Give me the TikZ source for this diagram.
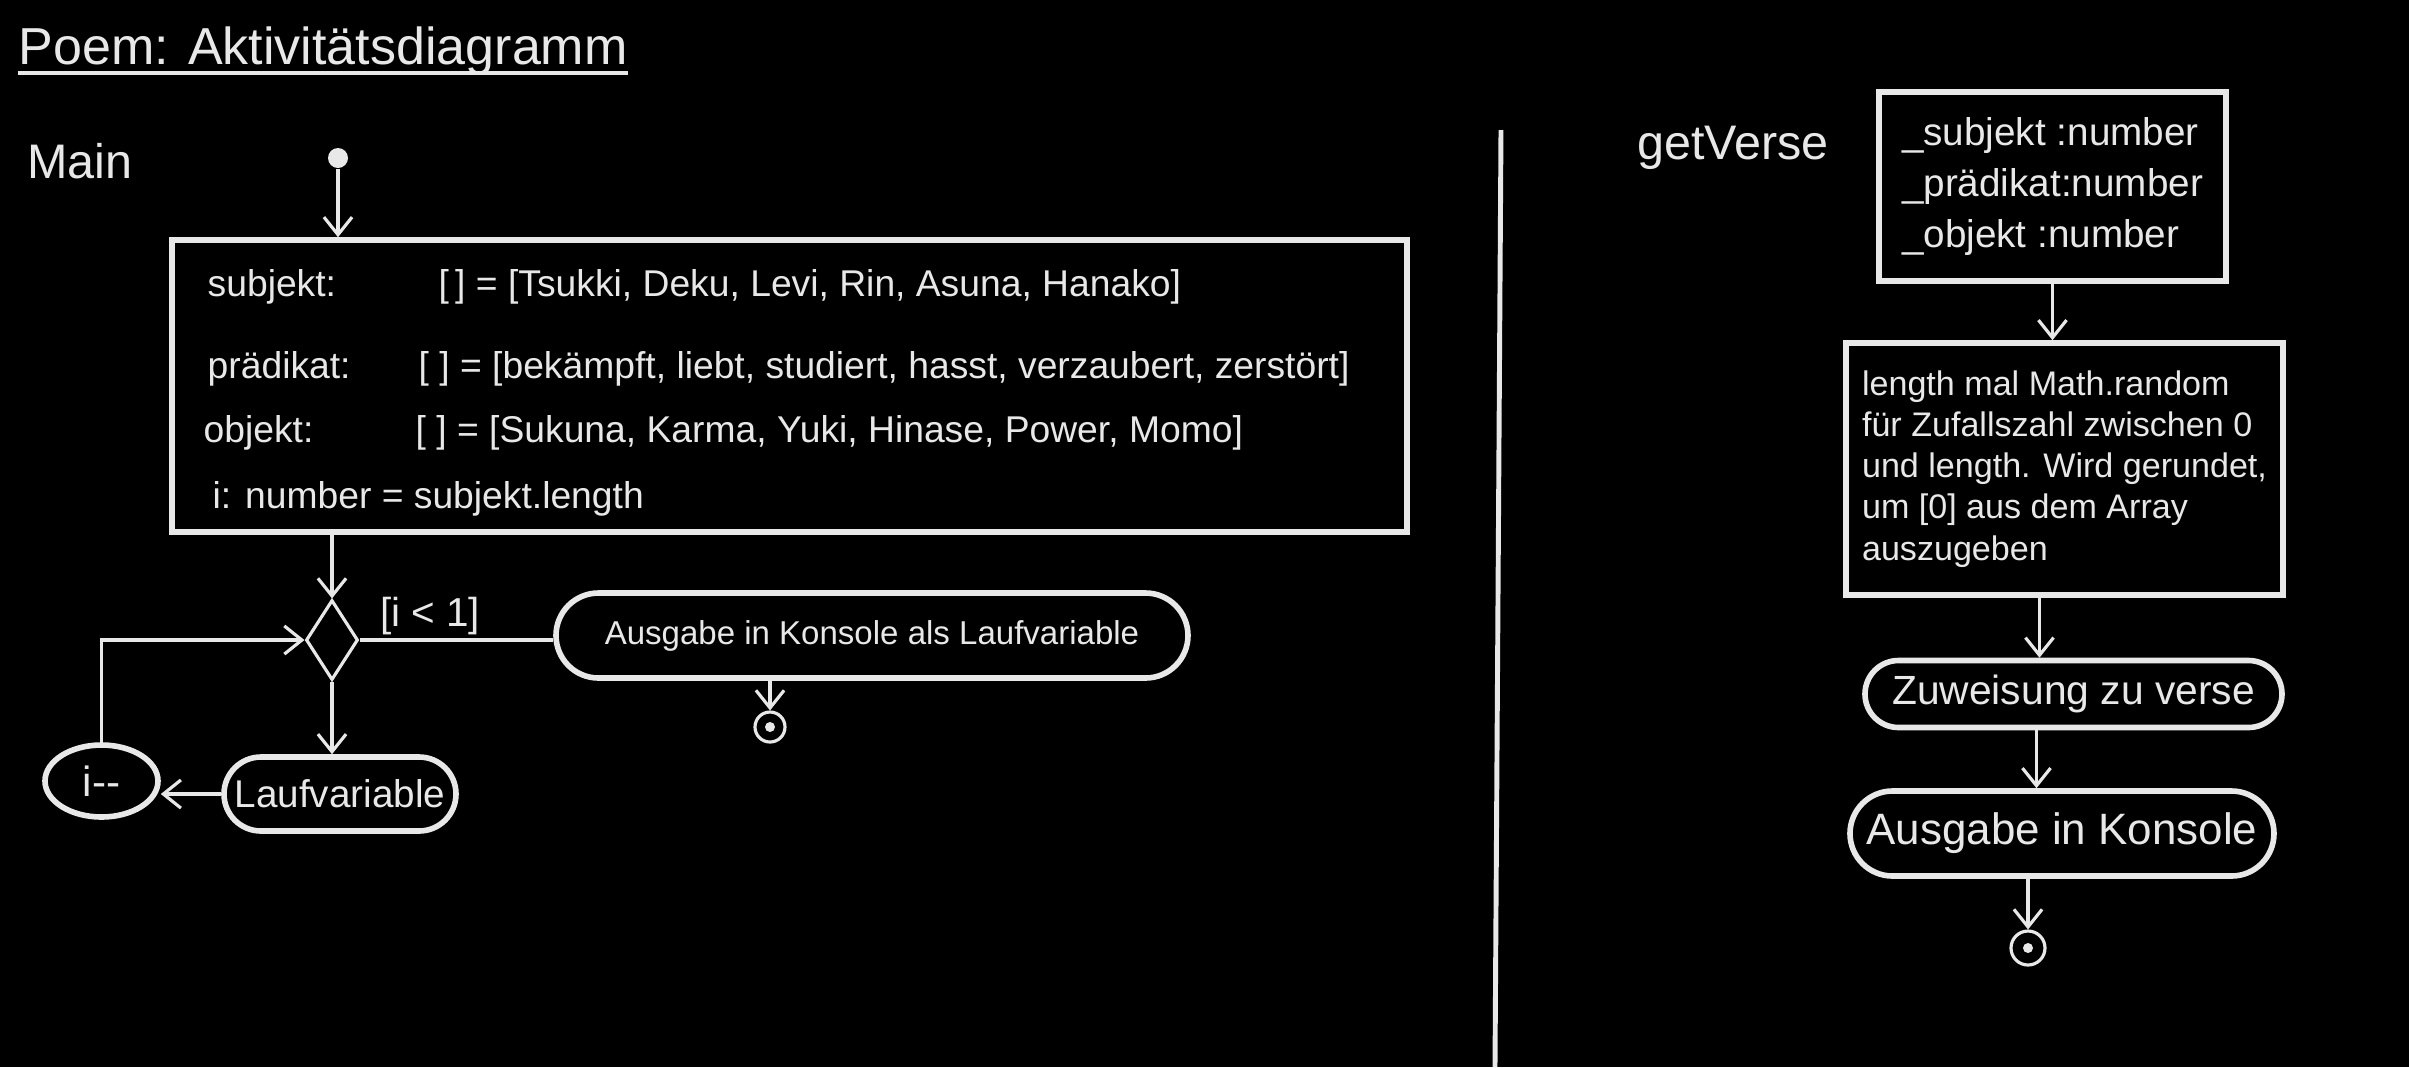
\documentclass[tikz,border=0pt]{standalone}
\usepackage{fontspec}
\setmainfont{Liberation Sans}
\usetikzlibrary{arrows.meta,shapes.geometric,shapes.misc}
\definecolor{chalk}{HTML}{E8E8E8}

\begin{document}
\begin{tikzpicture}[
    color=chalk,
    title/.style={font=\fontsize{14.8}{18}\selectfont, anchor=base west, inner sep=0pt},
    sect/.style={font=\fontsize{13.8}{16}\selectfont, inner sep=0pt},
    vartxt/.style={font=\fontsize{10.6}{13}\selectfont, anchor=west, inner sep=0pt},
    guard/.style={font=\fontsize{11.5}{13}\selectfont, inner sep=0pt},
    box/.style={draw, line width=1.6pt, inner sep=0pt},
    pill/.style={draw, rounded rectangle, line width=1.6pt, inner sep=0pt},
    decision/.style={diamond, draw, line width=0.9pt, minimum width=0.52cm, minimum height=0.8cm, inner sep=0pt},
    counter/.style={ellipse, draw, line width=1.6pt, inner sep=0pt, font=\fontsize{12}{14}\selectfont},
    startdot/.style={circle, fill, minimum size=0.2cm, inner sep=0pt},
    enddot/.style={circle, draw, line width=0.9pt, minimum size=0.3cm, inner sep=0pt,
        path picture={\fill (path picture bounding box.center) circle (0.05);}},
    arr/.style={-{Straight Barb[length=5pt,width=8pt]}, line width=0.9pt},
]
    % background and page size
    \fill[black] (0,0) rectangle (24.09,-10.67);
    \useasboundingbox (0,0) rectangle (24.09,-10.67);

    % ============= Title =============
    \node[title] (title) at (0.18,-0.64) {Poem: Aktivitätsdiagramm};
    \draw[line width=1pt] ([yshift=-0.09cm]title.base west) -- ([yshift=-0.09cm]title.base east);

    % ============= Main =============
    \node[sect] (mainlbl) at (0.80,-1.61) {Main};
    \node[startdot] (start) at (3.38,-1.58) {};
    \node[box, minimum width=12.35cm, minimum height=2.92cm] (vars) at (7.895,-3.86) {};
    \node[vartxt] (subjlbl) at (2.07,-2.87) {subjekt:};
    \node[vartxt] (subjlist) at (4.38,-2.87) {[\,] = [Tsukki, Deku, Levi, Rin, Asuna, Hanako]};
    \node[vartxt] (praedlbl) at (2.07,-3.69) {prädikat:};
    \node[vartxt] (praedlist) at (4.18,-3.69) {[ ] = [bekämpft, liebt, studiert, hasst, verzaubert, zerstört]};
    \node[vartxt] (objlbl) at (2.03,-4.33) {objekt:};
    \node[vartxt] (objlist) at (4.15,-4.33) {[ ] = [Sukuna, Karma, Yuki, Hinase, Power, Momo]};
    \node[vartxt] (ilbl) at (2.12,-4.99) {i: number = subjekt.length};

    \node[decision] (dec) at (3.32,-6.40) {};
    \node[guard] (guardlbl) at (4.30,-6.16) {[i < 1]};
    \node[pill, minimum width=6.32cm, minimum height=0.85cm, font=\fontsize{9.4}{11}\selectfont] (out) at (8.72,-6.355) {Ausgabe in Konsole als Laufvariable};
    \node[enddot] (endA) at (7.70,-7.27) {};
    \node[pill, minimum width=2.32cm, minimum height=0.74cm, font=\fontsize{11}{13}\selectfont] (lauf) at (3.40,-7.94) {Laufvariable};
    \node[counter, minimum width=1.13cm, minimum height=0.72cm] (decr) at (1.015,-7.81) {i-{}-};

    \draw[arr] (start) -- (start |- vars.north);
    \draw[arr] (dec |- vars.south) -- (dec.north);
    \draw[line width=0.9pt] (dec.east) -- (dec.east -| out.west);
    \draw[arr] (endA |- out.south) -- (endA.north);
    \draw[arr] (dec.south) -- (dec.south |- lauf.north);
    \draw[arr] (lauf.west) -- (lauf.west -| decr.east);
    \draw[arr] (decr.north) |- (dec.west);

    % divider
    \draw[line width=1.4pt] (15.01,-1.30) coordinate (divtop) -- (14.95,-10.67) coordinate (divbot);

    % ============= getVerse =============
    \node[sect] (verselbl) at (17.33,-1.48) {getVerse};
    \node[box, minimum width=3.47cm, minimum height=1.89cm, align=left, font=\fontsize{11}{14.5}\selectfont] (params) at (20.525,-1.865)
        {\_subjekt :number\\\_prädikat:number\\\_objekt :number};
    \node[box, minimum width=4.37cm, minimum height=2.52cm, align=left, font=\fontsize{9.7}{11.7}\selectfont] (calc) at (20.645,-4.69)
        {length mal Math.random\\für Zufallszahl zwischen 0\\und length. Wird gerundet,\\um [0] aus dem Array\\auszugeben};
    \node[pill, minimum width=4.17cm, minimum height=0.67cm, font=\fontsize{11.6}{14}\selectfont] (assign) at (20.735,-6.94) {Zuweisung zu verse};
    \node[pill, minimum width=4.24cm, minimum height=0.85cm, font=\fontsize{12.5}{15}\selectfont] (konsole) at (20.62,-8.335) {Ausgabe in Konsole};
    \node[enddot, minimum size=0.34cm] (endB) at (20.28,-9.48) {};

    \draw[arr] (params.south) -- (params.south |- calc.north);
    \draw[arr] ([xshift=-0.25cm]calc.south) -- ([xshift=-0.25cm]calc.south |- assign.north);
    \draw[arr] ([xshift=-0.37cm]assign.south) -- ([xshift=-0.37cm]assign.south |- konsole.north);
    \draw[arr] (endB |- konsole.south) -- (endB.north);
\end{tikzpicture}
\end{document}
